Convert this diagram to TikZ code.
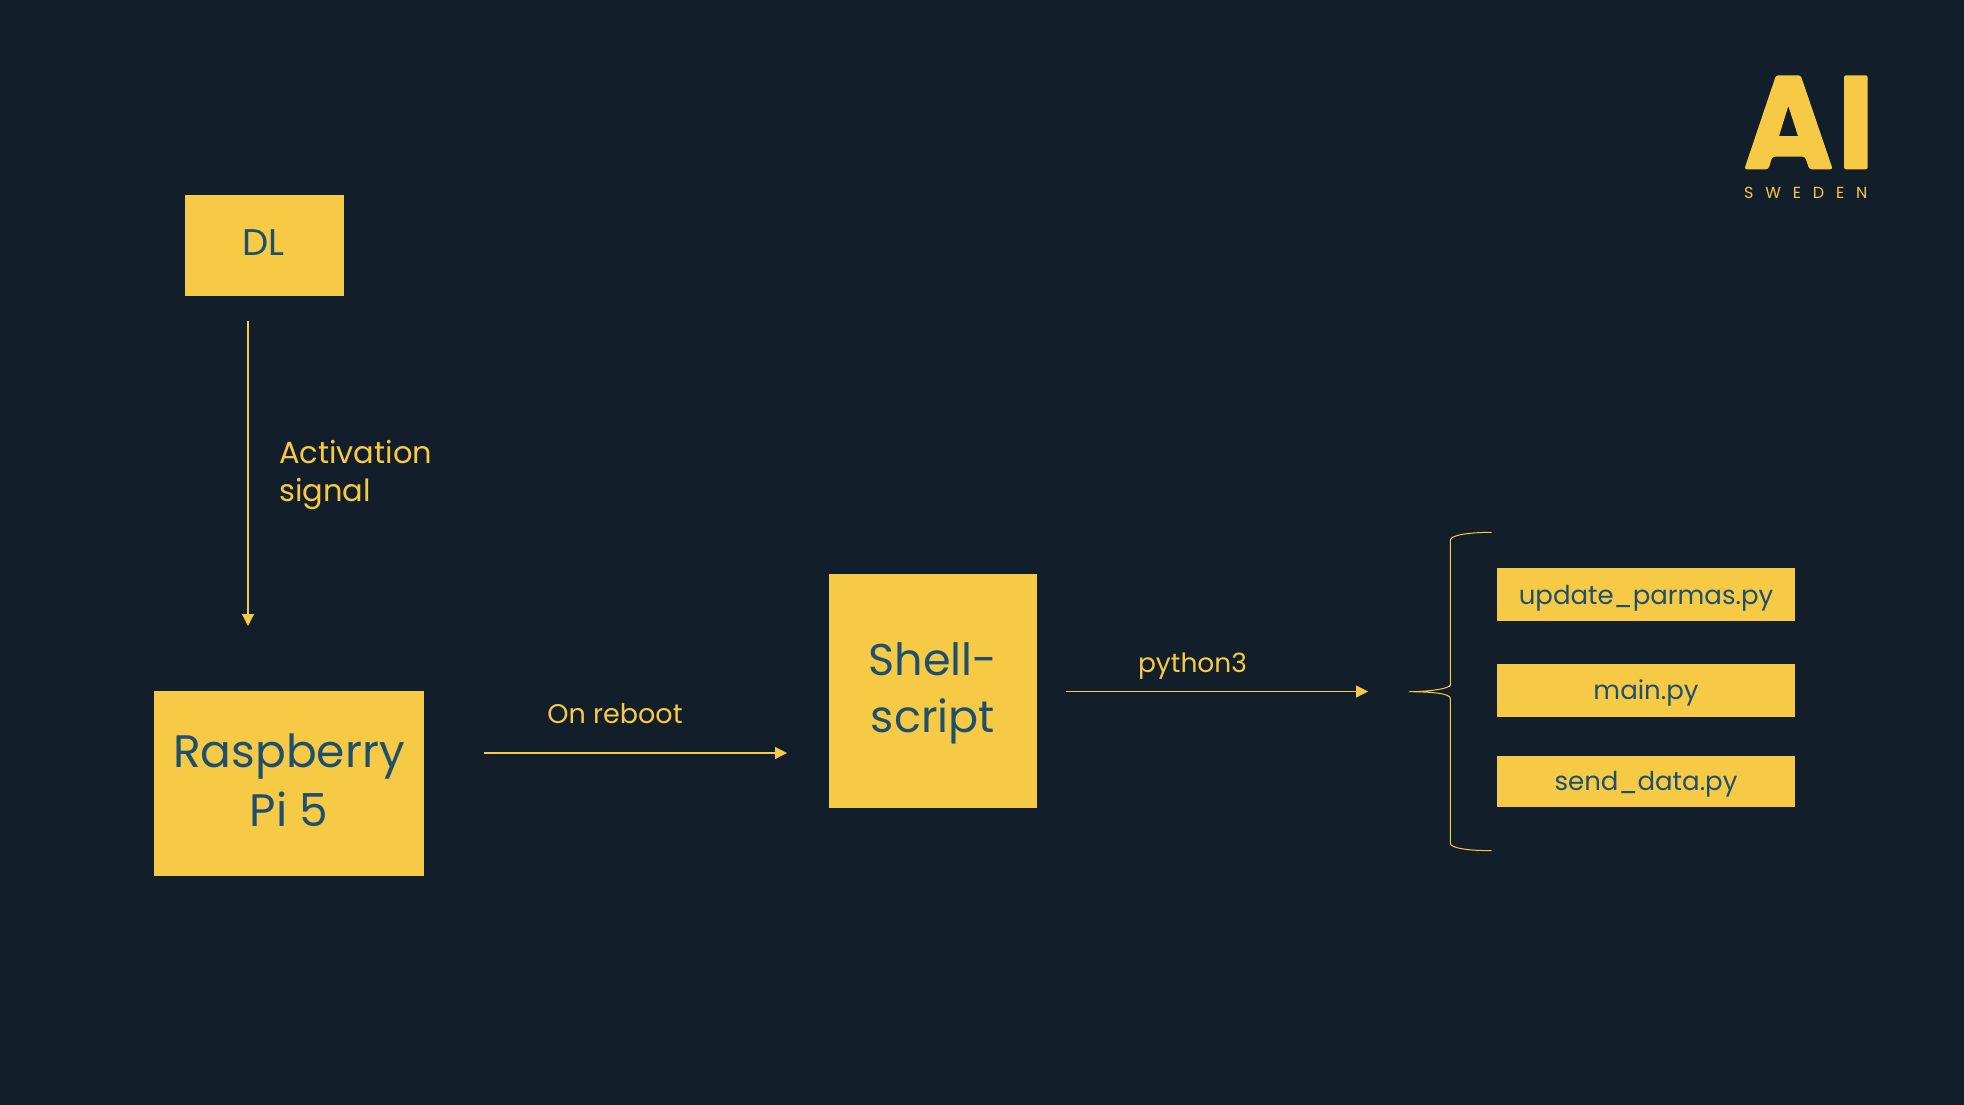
\documentclass[tikz,border=0pt]{standalone}
\usepackage{fontspec}
\setmainfont{Poppins}
\usetikzlibrary{arrows.meta}
\definecolor{bgc}{HTML}{121F2B}
\definecolor{yel}{HTML}{F6CA45}
\definecolor{ink}{HTML}{1F4F6E}
\newcommand{\fsz}[1]{\fontsize{#1}{#1}\selectfont}
\tikzset{
 x=1pt,y=-1pt,
 boxn/.style={fill=yel,text=ink,inner sep=0pt,align=center},
 lbl/.style={text=yel,inner sep=0pt,anchor=base},
 conn/.style={draw=yel,line width=1.1pt,-{Triangle[length=12pt,width=12pt]}},
 brc/.style={draw=yel,line width=1pt}
}
\begin{document}
\begin{tikzpicture}
\useasboundingbox (0,0) rectangle (1964,1104);
\fill[bgc] (-1,-1) rectangle (1965,1105);
% boxes
\node[boxn,minimum width=159pt,minimum height=101pt,text height=19pt,text depth=0pt] (dl) at (264.5,245.5) {\hspace{-2pt}\fsz{37}DL};
\node[boxn,minimum width=270pt,minimum height=185pt,font=\fsz{45.5}] (rpi) at (289,783.5) {Raspberry\\[12pt]Pi 5\rule[-7pt]{0pt}{1pt}};
\node[boxn,minimum width=208pt,minimum height=234pt,font=\fsz{44.5}] (shell) at (933,691) {\rule{0pt}{38pt}Shell-\\[13pt]script};
\node[boxn,minimum width=298pt,minimum height=53pt,text height=19pt,text depth=0pt,font=\fsz{26}] (upd) at (1646,594.5) {update\_parmas.py};
\node[boxn,minimum width=298pt,minimum height=53pt,text height=17pt,text depth=0pt,font=\fsz{26}] (mainpy) at (1646,690.5) {main.py};
\node[boxn,minimum width=298pt,minimum height=51pt,text height=17pt,text depth=0pt,font=\fsz{26}] (send) at (1646,781.5) {send\_data.py};
% labels
\node[lbl,anchor=base west,align=left,font=\fsz{30.5}] (act) at (279,463) {Activation};
\node[lbl,anchor=base west,font=\fsz{30.5}] (sig) at (279,501) {signal};
\node[lbl,font=\fsz{27}] (reb) at (615,723.5) {On reboot};
\node[lbl,font=\fsz{26.5}] (py3) at (1192.5,672.5) {python3};
% connectors
\coordinate (a1s) at (248,321); \coordinate (a1e) at (248,626);
\coordinate (a2s) at (483.5,753); \coordinate (a2e) at (787,753);
\coordinate (a3s) at (1065.5,691.5); \coordinate (a3e) at (1368,691.5);
\draw[conn] (a1s) -- (a1e);
\draw[conn] (a2s) -- (a2e);
\draw[conn] (a3s) -- (a3e);
% brace
\coordinate (bt) at (1491.7,532.3);
\coordinate (bm) at (1409.3,691.7);
\coordinate (bb) at (1491.7,850.7);
\draw[brc] (bt) .. controls (1470,532.3) and (1450.3,535) .. (1450.3,540)
 -- (1450.3,685) .. controls (1450.3,688.3) and (1430,691.7) .. (bm)
 .. controls (1430,691.7) and (1450.3,693.3) .. (1450.3,698.3)
 -- (1450.3,843.3) .. controls (1450.3,848.3) and (1470,850.7) .. (bb);
% logo
\fill[yel,even odd rule] [rounded corners=2.5pt]
 (1744.3,169.3) -- (1776,75.3) -- (1800.7,75.3) -- (1832.7,169.3) -- (1809.3,169.3) -- (1805,156.7) -- (1772.3,156.7) -- (1768.3,169.3) -- cycle
 [sharp corners] (1788.3,106) -- (1798,136) -- (1779,136) -- cycle;
\fill[yel,rounded corners=2pt] (1844,75.3) rectangle (1867.7,169.3);
\node[lbl,anchor=base west,font=\fsz{16}] (swe) at (1744,198) {\addfontfeature{LetterSpace=74}SWEDEN};
\end{tikzpicture}
\end{document}
